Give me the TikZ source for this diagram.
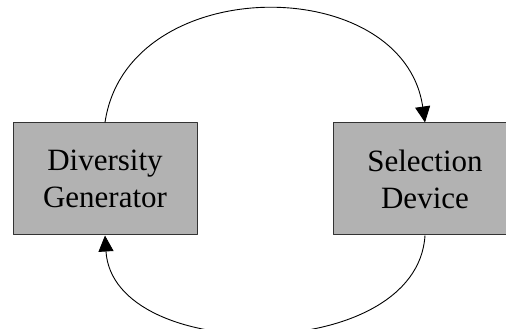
\documentclass[tikz,border=0pt]{standalone}
\usepackage{fontspec}
\setmainfont{Liberation Serif}
\usetikzlibrary{arrows.meta}
\definecolor{boxgray}{rgb}{0.70,0.70,0.70}
\begin{document}
\begin{tikzpicture}[x=1pt,y=1pt,line join=round,
        block/.style={draw=black!80,line width=1pt,fill=boxgray,minimum width=184pt,
                minimum height=112pt,inner sep=0pt,align=center,
                font=\fontsize{31}{37}\selectfont},
        loop/.style={line width=0.9pt,-{Triangle[length=16pt,width=15pt]}}]
        \useasboundingbox (0,0) rectangle (506,329);
        \clip (0,0) rectangle (506,329);
        \node[block] (divgen) at (105,150) {Diversity\\Generator};
        \node[block] (seldev) at (425,150) {Selection\\Device};
        % feedback loop
        \draw[loop] (divgen.north) .. controls +(22,151) and +(-22,151) .. (seldev.north);
        \draw[loop] (seldev.south) .. controls +(-8,-129) and +(8,-129) .. (divgen.south);
\end{tikzpicture}
\end{document}
